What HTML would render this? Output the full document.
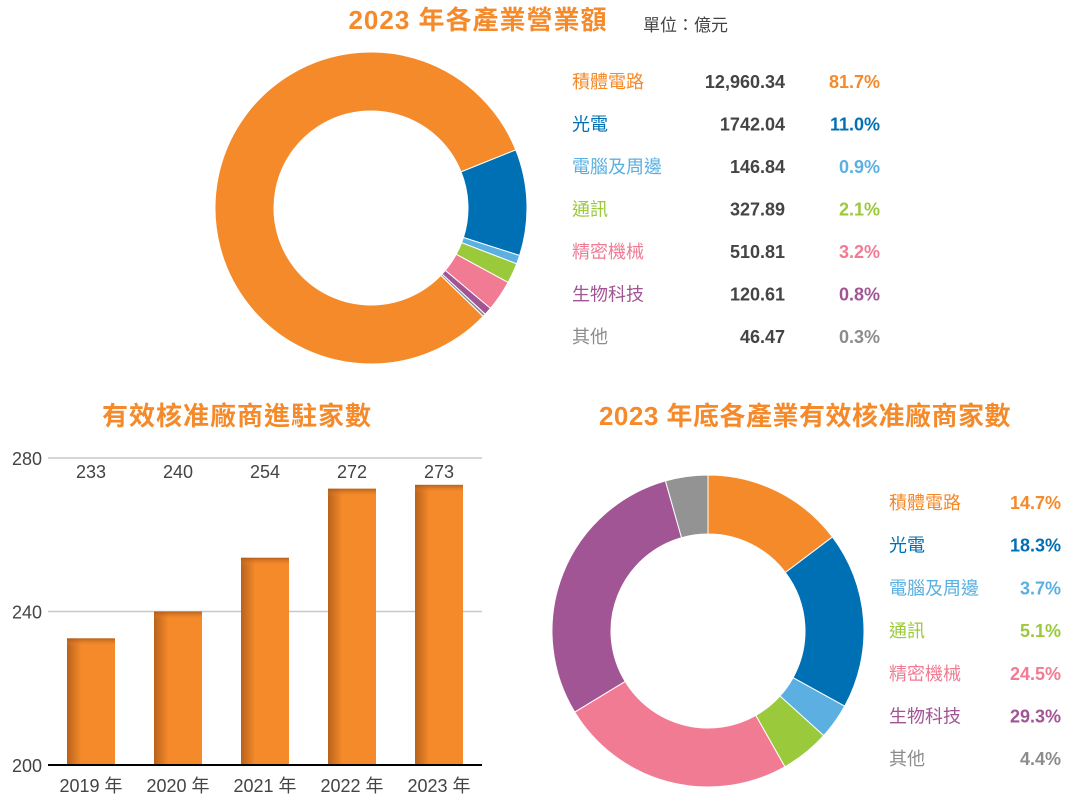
<!DOCTYPE html>
<html><head><meta charset="utf-8">
<style>
body{margin:0;width:1074px;height:797px;background:#fff;overflow:hidden;font-family:"Liberation Sans","Noto Sans CJK TC",sans-serif;}
svg{display:block}
</style></head>
<body>
<svg id="s" width="1074" height="797">
<defs>
<linearGradient id="bg" x1="0" x2="1" y1="0" y2="0">
<stop offset="0" stop-color="#b8621c"/><stop offset="0.3" stop-color="#f58a2a"/><stop offset="1" stop-color="#f58a2a"/>
</linearGradient>
<linearGradient id="bt" x1="0" x2="0" y1="0" y2="1">
<stop offset="0" stop-color="#a6571a" stop-opacity="0.8"/><stop offset="1" stop-color="#f58a2a" stop-opacity="0"/>
</linearGradient>
</defs>
</svg>
<script>
const NS="http://www.w3.org/2000/svg";
const svg=document.getElementById('s');
function mk(tag,attrs,parent){const e=document.createElementNS(NS,tag);for(const k in attrs)e.setAttribute(k,attrs[k]);(parent||svg).appendChild(e);return e;}
function txt(x,y,s,size,fill,anchor,weight,ls){const t=mk('text',{x:x,y:y,'font-size':size,fill:fill,'text-anchor':anchor||'start','font-weight':weight||'normal','letter-spacing':ls||0,'font-family':'"Liberation Sans","Noto Sans CJK TC",sans-serif'});t.textContent=s;return t;}

// Data
const revCategories=["積體電路","光電","電腦及周邊","通訊","精密機械","生物科技","其他"];
const revValues=["12,960.34","1742.04","146.84","327.89","510.81","120.61","46.47"];
const revShares=[81.7,11.0,0.9,2.1,3.2,0.8,0.3];
const colors=["#f58a2a","#0070b5","#5bb0e1","#9ac93b","#f27b94","#a15594","#939393"];
const textColors=["#f58a2a","#0070b5","#5bb0e1","#9ac93b","#f27b94","#a15594","#8c8c8c"];
const years=["2019 年","2020 年","2021 年","2022 年","2023 年"];
const counts=[233,240,254,272,273];
const yTicks=[200,240,280];
const cntShares=[14.7,18.3,3.7,5.1,24.5,29.3,4.4];

function arc(cx,cy,r0,r1,a0,a1){
  const p=(r,a)=>[cx+r*Math.sin(a),cy-r*Math.cos(a)];
  const large=(a1-a0)>Math.PI?1:0;
  const [x0,y0]=p(r1,a0),[x1,y1]=p(r1,a1),[x2,y2]=p(r0,a1),[x3,y3]=p(r0,a0);
  return `M${x0},${y0}A${r1},${r1} 0 ${large} 1 ${x1},${y1}L${x2},${y2}A${r0},${r0} 0 ${large} 0 ${x3},${y3}Z`;
}
function donut(cx,cy,r0,r1,shares,start,name){
  const g=mk('g',{});
  
  
  const tot=shares.reduce((a,b)=>a+b,0);
  let a=start;
  shares.forEach((v,i)=>{
    const da=v/tot*2*Math.PI;
    const p=mk('path',{d:arc(cx,cy,r0,r1,a,a+da),fill:colors[i],stroke:'#fff','stroke-width':1},g);
    
    
    a+=da;
  });
}

// Titles
let t=txt(478,29,"2023 年各產業營業額",26,"#f58a2a","middle","bold",1);


t=txt(643,31,"單位：億元",17,"#444","start");


t=txt(237,425,"有效核准廠商進駐家數",26,"#f58a2a","middle","bold",1);


t=txt(805,425,"2023 年底各產業有效核准廠商家數",26,"#f58a2a","middle","bold",0.5);



// Donut 1
donut(371,208,97,156,revShares,134/180*Math.PI,'revenue-donut');
revCategories.forEach((c,i)=>{
  const y=88+i*42.5;
  let e=txt(572,y,c,18,textColors[i],"start");
  
  
  e=txt(785,y,revValues[i],18,"#444","end","bold");
  
  
  e=txt(880,y,revShares[i].toFixed(1)+"%",18,textColors[i],"end","bold");
  
  
});

// Donut 2
donut(708,631,97,156,cntShares,0,'count-donut');
revCategories.forEach((c,i)=>{
  const y=509+i*42.7;
  let e=txt(889,y,c,18,textColors[i],"start");
  
  
  e=txt(1061,y,cntShares[i].toFixed(1)+"%",18,textColors[i],"end","bold");
  
  
});

// Bar chart
const x0=48,x1=482,yTop=458,yBot=765,vMin=200,vMax=280;
const yS=v=>yBot-(v-vMin)/(vMax-vMin)*(yBot-yTop);
const step=87,bw=48,firstX=67;
yTicks.forEach(v=>{
  if(v>vMin){const l=mk('line',{x1:x0,x2:x1,y1:yS(v),y2:yS(v),stroke:'#c8c8c8','stroke-width':1.5});
  
  }
  const e=txt(42,yS(v)+7,String(v),18,"#444","end");
  
  
});
counts.forEach((v,i)=>{
  const x=firstX+i*step,y=yS(v);
  const r=mk('rect',{x:x,y:y,width:bw,height:yBot-y,fill:'url(#bg)'});
  
  
  const r2=mk('rect',{x:x,y:y,width:bw,height:8,fill:'url(#bt)'});
  
  
  let e=txt(x+bw/2,478,String(v),18,"#444","middle");
  
  
  e=txt(x+bw/2,792,years[i],18,"#444","middle");
  
  
});
const ax=mk('line',{x1:x0,x2:x1,y1:yBot,y2:yBot,stroke:'#000','stroke-width':2});


</script>
</body></html>
